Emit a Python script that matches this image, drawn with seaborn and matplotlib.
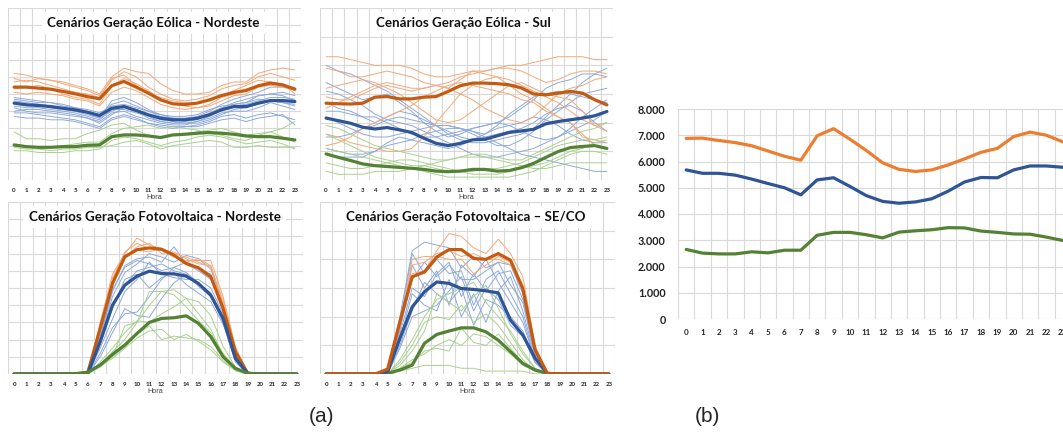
import numpy as np
import pandas as pd
import matplotlib
matplotlib.use("Agg")
import matplotlib.pyplot as plt
from matplotlib.ticker import MultipleLocator, FuncFormatter
import seaborn as sns

hours = list(range(24))
hour_labels = [str(h) for h in hours]

# ---------------- (a) Wind, Nordeste (relative scale 0-10) ----------------
ne_wind_hi = [5.40, 5.40, 5.34, 5.28, 5.15, 5.01, 4.85, 4.72, 5.48, 5.73, 5.40, 5.05,
              4.66, 4.43, 4.39, 4.47, 4.66, 4.91, 5.09, 5.20, 5.48, 5.63, 5.53, 5.28]
ne_wind_mid = [4.47, 4.37, 4.33, 4.27, 4.17, 4.08, 3.94, 3.75, 4.17, 4.27, 4.04, 3.79,
               3.59, 3.50, 3.50, 3.59, 3.79, 4.08, 4.27, 4.27, 4.47, 4.62, 4.62, 4.56]
ne_wind_lo = [2.04, 1.94, 1.90, 1.90, 1.94, 1.94, 2.02, 2.04, 2.52, 2.62, 2.62, 2.56,
              2.47, 2.62, 2.66, 2.72, 2.76, 2.72, 2.66, 2.56, 2.52, 2.52, 2.43, 2.33]
ne_wind_hi_runs = [
    [6.2, 6.1, 5.9, 5.8, 5.7, 5.5, 5.3, 5.0, 6.0, 6.5, 6.3, 6.2, 5.6, 5.2, 5.0, 5.0, 5.1, 5.5, 5.7, 5.7, 6.2, 6.4, 6.5, 6.4],
    [5.9, 5.7, 5.9, 5.8, 5.6, 5.4, 5.2, 4.9, 5.8, 6.3, 6.0, 5.4, 5.0, 4.7, 4.6, 4.7, 4.9, 5.3, 5.5, 5.6, 6.0, 6.2, 6.0, 5.8],
    [5.7, 5.8, 5.7, 5.5, 5.3, 5.1, 5.0, 4.8, 5.9, 6.1, 5.5, 5.0, 4.8, 4.6, 4.5, 4.5, 4.6, 4.9, 5.2, 5.5, 5.8, 5.7, 5.5, 5.3],
    [5.3, 5.4, 5.5, 5.3, 5.0, 4.8, 4.7, 4.4, 5.5, 5.9, 5.6, 5.2, 4.7, 4.4, 4.3, 4.2, 4.4, 4.8, 5.0, 5.3, 5.5, 5.7, 5.6, 5.0],
    [5.1, 5.0, 5.1, 5.0, 4.9, 4.7, 4.6, 4.3, 5.1, 5.4, 5.2, 4.8, 4.4, 4.2, 4.1, 4.2, 4.3, 4.6, 4.9, 5.0, 5.4, 5.5, 5.4, 5.2],
]
ne_wind_mid_runs = [
    [4.8, 4.7, 4.6, 4.5, 4.3, 4.2, 4.0, 3.8, 4.4, 4.6, 4.3, 4.0, 3.7, 3.6, 3.6, 3.7, 4.0, 4.4, 4.7, 4.9, 5.1, 5.4, 5.4, 5.4],
    [4.6, 4.5, 4.4, 4.3, 4.2, 4.0, 3.9, 3.6, 4.0, 4.3, 4.1, 3.8, 3.5, 3.4, 3.3, 3.4, 3.7, 4.1, 4.4, 4.5, 4.9, 5.0, 5.1, 4.9],
    [4.3, 4.2, 4.2, 4.1, 4.0, 3.9, 3.7, 3.5, 4.1, 4.1, 3.9, 3.7, 3.4, 3.3, 3.4, 3.5, 3.8, 4.2, 4.3, 4.4, 4.6, 4.8, 4.8, 4.7],
    [4.2, 4.0, 3.9, 3.9, 3.8, 3.7, 3.6, 3.4, 3.9, 4.0, 3.7, 3.5, 3.3, 3.2, 3.2, 3.4, 3.6, 3.9, 4.0, 4.0, 4.2, 4.5, 4.3, 4.1],
    [3.9, 3.9, 3.8, 3.7, 3.6, 3.5, 3.3, 3.1, 3.6, 3.8, 3.6, 3.3, 3.1, 3.0, 3.1, 3.2, 3.4, 3.7, 3.8, 3.6, 3.8, 3.9, 3.7, 3.5],
    [4.5, 4.4, 4.4, 4.2, 4.1, 4.0, 3.8, 3.6, 4.6, 4.8, 4.5, 4.1, 3.8, 3.6, 3.5, 3.6, 3.9, 4.2, 4.5, 4.7, 4.9, 5.0, 4.9, 4.6],
    [4.0, 4.1, 4.1, 4.0, 3.9, 3.8, 3.6, 3.3, 3.8, 4.2, 4.0, 3.6, 3.4, 3.3, 3.3, 3.3, 3.5, 3.8, 4.1, 4.2, 4.4, 4.6, 4.5, 4.4],
    [4.7, 4.6, 4.5, 4.5, 4.4, 4.2, 4.1, 3.9, 4.3, 4.4, 4.2, 4.0, 3.8, 3.7, 3.7, 3.8, 4.1, 4.3, 4.4, 4.5, 4.7, 4.6, 4.5, 4.3],
    [3.7, 3.6, 3.6, 3.5, 3.5, 3.4, 3.2, 3.0, 3.5, 3.7, 3.5, 3.3, 3.2, 3.1, 3.1, 3.1, 3.3, 3.5, 3.6, 3.4, 3.6, 3.7, 3.8, 3.2],
]
ne_wind_lo_runs = [
    [2.8, 2.4, 2.4, 2.3, 2.4, 2.4, 2.7, 2.9, 3.2, 3.3, 2.9, 2.6, 2.5, 2.6, 2.7, 2.8, 2.9, 3.0, 2.8, 2.6, 2.7, 2.8, 3.0, 3.4],
    [2.0, 1.9, 1.9, 1.9, 2.0, 2.1, 2.2, 2.2, 2.7, 3.0, 3.1, 3.2, 3.0, 3.1, 3.0, 2.9, 2.7, 2.6, 2.4, 2.3, 2.6, 2.8, 2.5, 2.2],
    [1.7, 1.7, 1.6, 1.6, 1.6, 1.7, 1.7, 1.8, 2.3, 2.5, 2.4, 2.2, 2.0, 2.2, 2.3, 2.5, 2.6, 2.5, 2.3, 2.1, 2.2, 2.3, 2.1, 1.8],
    [1.9, 1.8, 1.8, 1.7, 1.8, 1.8, 1.9, 1.9, 2.0, 2.2, 2.3, 2.1, 1.8, 2.0, 2.1, 2.2, 2.3, 2.2, 1.9, 1.9, 2.0, 1.9, 1.9, 1.9],
]

# ---------------- (a) Wind, Sul (relative scale 0-6) ----------------
s_wind_hi = [2.68, 2.66, 2.65, 2.68, 2.89, 2.91, 2.83, 2.83, 2.89, 2.91, 3.09, 3.29,
             3.38, 3.38, 3.36, 3.32, 3.21, 3.00, 2.97, 3.03, 3.09, 3.03, 2.80, 2.62]
s_wind_mid = [2.16, 2.07, 1.98, 1.84, 1.78, 1.83, 1.75, 1.66, 1.46, 1.28, 1.20, 1.28,
              1.40, 1.42, 1.54, 1.66, 1.71, 1.77, 1.96, 2.04, 2.10, 2.16, 2.24, 2.39]
s_wind_lo = [0.91, 0.79, 0.68, 0.56, 0.50, 0.47, 0.44, 0.41, 0.37, 0.31, 0.29, 0.31,
             0.37, 0.37, 0.31, 0.33, 0.43, 0.58, 0.79, 0.99, 1.13, 1.17, 1.20, 1.10]
s_wind_hi_runs = [
    [4.3, 4.3, 4.2, 4.1, 4.0, 4.0, 4.0, 3.9, 3.7, 3.6, 3.6, 3.7, 3.8, 3.8, 3.9, 4.0, 4.0, 4.1, 4.2, 4.3, 4.3, 4.3, 4.2, 4.2],
    [3.9, 3.8, 3.6, 3.6, 3.7, 3.8, 3.7, 3.6, 3.4, 3.3, 3.2, 3.5, 3.8, 3.7, 3.6, 3.3, 3.0, 2.8, 2.5, 2.2, 2.0, 1.5, 1.4, 1.3],
    [2.5, 2.7, 2.9, 3.1, 3.3, 3.4, 3.3, 3.2, 3.2, 3.3, 3.4, 3.6, 3.7, 3.8, 3.9, 3.9, 3.8, 3.6, 3.4, 3.5, 3.7, 3.8, 3.8, 3.7],
    [1.2, 1.3, 1.5, 1.8, 2.0, 2.2, 2.4, 2.6, 2.9, 3.1, 3.3, 3.4, 3.3, 3.2, 3.1, 3.0, 2.8, 2.7, 2.4, 2.2, 2.0, 1.6, 1.2, 1.1],
    [3.2, 3.3, 3.4, 3.5, 3.4, 3.2, 3.0, 2.7, 2.4, 2.1, 2.0, 2.1, 2.4, 2.7, 3.0, 3.3, 3.4, 3.2, 3.0, 2.9, 2.8, 2.4, 1.9, 1.7],
    [2.9, 2.8, 2.8, 3.0, 3.2, 3.3, 3.2, 3.1, 3.2, 3.3, 3.2, 3.0, 2.8, 2.5, 2.3, 2.1, 2.0, 2.2, 2.6, 3.0, 3.2, 3.3, 3.5, 3.6],
    [1.6, 1.5, 1.3, 1.2, 1.1, 1.0, 1.0, 1.1, 1.5, 2.0, 2.5, 3.0, 3.3, 3.5, 3.6, 3.5, 3.3, 3.1, 2.9, 2.7, 2.4, 2.1, 1.9, 2.0],
]
s_wind_mid_runs = [
    [4.0, 3.8, 3.7, 3.5, 3.3, 3.1, 2.8, 2.5, 2.2, 1.9, 1.6, 1.4, 1.3, 1.3, 1.4, 1.5, 1.6, 1.8, 2.2, 2.6, 3.0, 3.4, 3.7, 3.9],
    [3.4, 3.2, 3.0, 2.8, 2.9, 3.0, 2.7, 2.4, 2.0, 1.7, 1.5, 1.6, 1.8, 1.9, 2.0, 2.2, 2.5, 2.8, 3.2, 3.4, 3.5, 3.7, 3.7, 3.6],
    [2.7, 2.5, 2.4, 2.2, 2.0, 2.2, 2.4, 2.3, 2.1, 1.9, 1.9, 1.8, 1.7, 1.6, 1.9, 2.3, 2.6, 2.9, 3.0, 3.1, 3.0, 2.9, 2.8, 2.7],
    [1.1, 1.0, 0.9, 0.9, 1.0, 1.2, 1.3, 1.4, 1.6, 1.7, 1.8, 1.8, 1.7, 1.5, 1.3, 1.1, 0.9, 0.8, 0.7, 0.6, 0.5, 0.4, 0.3, 0.3],
    [2.2, 2.0, 1.8, 1.6, 1.5, 1.5, 1.6, 1.7, 1.8, 1.9, 1.9, 1.8, 1.6, 1.4, 1.2, 1.2, 1.4, 1.7, 2.1, 2.4, 2.7, 3.0, 3.1, 3.2],
    [0.9, 0.8, 0.8, 0.8, 1.0, 1.3, 1.5, 1.4, 1.3, 1.2, 1.1, 1.2, 1.4, 1.6, 1.8, 1.9, 2.0, 2.2, 2.1, 1.9, 1.6, 1.4, 1.3, 1.3],
    [3.1, 3.0, 2.8, 2.6, 2.3, 2.1, 2.0, 1.9, 1.7, 1.5, 1.3, 1.1, 0.9, 0.8, 0.8, 0.9, 1.0, 1.1, 1.3, 1.5, 1.8, 2.2, 2.5, 2.8],
    [2.4, 2.4, 2.3, 2.2, 2.2, 2.0, 1.8, 1.6, 1.5, 1.5, 1.6, 1.7, 1.8, 1.9, 2.0, 1.9, 1.7, 1.5, 1.4, 1.5, 1.7, 1.9, 2.1, 2.4],
    [1.5, 1.5, 1.6, 1.8, 1.9, 2.1, 2.2, 2.1, 2.0, 1.9, 1.7, 1.5, 1.4, 1.5, 1.6, 1.7, 1.8, 2.0, 2.3, 2.5, 2.6, 2.4, 2.0, 1.7],
]
s_wind_lo_runs = [
    [1.9, 1.8, 1.6, 1.4, 1.2, 1.1, 1.0, 0.9, 0.8, 0.7, 0.7, 0.8, 0.9, 0.9, 0.8, 0.7, 0.7, 0.9, 1.1, 1.3, 1.5, 1.7, 1.8, 2.0],
    [1.6, 1.4, 1.2, 1.0, 0.8, 0.7, 0.6, 0.5, 0.5, 0.4, 0.3, 0.3, 0.3, 0.4, 0.4, 0.5, 0.6, 0.8, 1.0, 1.2, 1.3, 1.4, 1.4, 1.5],
    [0.6, 0.5, 0.4, 0.4, 0.5, 0.6, 0.7, 0.7, 0.6, 0.5, 0.4, 0.3, 0.2, 0.2, 0.2, 0.3, 0.4, 0.5, 0.6, 0.8, 1.0, 1.1, 1.3, 1.4],
    [0.3, 0.2, 0.2, 0.2, 0.3, 0.3, 0.3, 0.4, 0.5, 0.6, 0.7, 0.8, 0.8, 0.8, 0.7, 0.6, 0.5, 0.4, 0.4, 0.5, 0.6, 0.6, 0.6, 0.6],
    [1.1, 1.0, 0.9, 0.8, 0.7, 0.6, 0.5, 0.4, 0.3, 0.2, 0.1, 0.1, 0.1, 0.1, 0.1, 0.1, 0.2, 0.3, 0.5, 0.7, 0.9, 1.0, 1.0, 0.9],
]

# ---------------- (a) Solar, Nordeste (relative scale 0-10) ----------------
ne_pv_hi = [0, 0, 0, 0, 0, 0, 0.10, 2.65, 5.26, 6.81, 7.23, 7.33, 7.25, 6.91, 6.42, 6.17, 5.65, 3.81, 1.30, 0.04, 0, 0, 0, 0]
ne_pv_mid = [0, 0, 0, 0, 0, 0, 0.05, 1.88, 4.00, 5.16, 5.69, 5.98, 5.84, 5.82, 5.69, 5.26, 4.58, 3.23, 0.91, 0.04, 0, 0, 0, 0]
ne_pv_lo = [0, 0, 0, 0, 0, 0.02, 0.10, 0.52, 1.14, 1.68, 2.36, 3.00, 3.23, 3.27, 3.38, 2.94, 2.17, 1.00, 0.33, 0.04, 0, 0, 0, 0]
ne_pv_hi_runs = [
    [0, 0, 0, 0, 0, 0, 0, 3.0, 5.8, 7.0, 7.9, 7.5, 7.3, 7.0, 6.8, 6.5, 6.2, 4.3, 1.5, 0, 0, 0, 0, 0],
    [0, 0, 0, 0, 0, 0, 0, 2.8, 5.5, 7.1, 7.6, 7.3, 7.2, 6.8, 6.6, 6.6, 6.6, 4.5, 1.6, 0, 0, 0, 0, 0],
    [0, 0, 0, 0, 0, 0, 0, 2.5, 5.2, 6.8, 7.4, 7.6, 7.0, 7.1, 6.7, 6.4, 6.3, 4.1, 1.3, 0, 0, 0, 0, 0],
    [0, 0, 0, 0, 0, 0, 0, 2.7, 5.6, 6.9, 7.2, 7.1, 7.3, 6.9, 6.5, 6.7, 6.3, 4.0, 1.4, 0, 0, 0, 0, 0],
]
ne_pv_mid_runs = [
    [0, 0, 0, 0, 0, 0, 0, 2.2, 4.8, 6.3, 6.7, 6.8, 6.5, 7.4, 6.4, 6.0, 5.5, 3.8, 1.1, 0, 0, 0, 0, 0],
    [0, 0, 0, 0, 0, 0, 0, 2.0, 4.5, 5.9, 6.4, 7.0, 6.8, 6.5, 6.9, 6.7, 6.1, 4.0, 1.2, 0, 0, 0, 0, 0],
    [0, 0, 0, 0, 0, 0, 0, 1.8, 4.0, 5.2, 6.0, 6.2, 6.4, 6.0, 5.8, 5.2, 4.6, 3.2, 0.9, 0, 0, 0, 0, 0],
    [0, 0, 0, 0, 0, 0, 0, 1.2, 2.7, 3.5, 3.6, 4.5, 5.5, 6.2, 5.9, 5.3, 4.7, 3.3, 0.8, 0, 0, 0, 0, 0],
    [0, 0, 0, 0, 0, 0, 0, 1.5, 3.2, 4.8, 5.5, 6.5, 5.8, 5.6, 5.5, 5.5, 5.0, 3.5, 1.0, 0, 0, 0, 0, 0],
    [0, 0, 0, 0, 0, 0, 0, 1.0, 2.4, 3.8, 3.4, 3.3, 4.4, 5.3, 5.8, 5.1, 4.5, 3.0, 0.7, 0, 0, 0, 0, 0],
    [0, 0, 0, 0, 0, 0, 0, 2.1, 4.9, 6.2, 6.6, 6.4, 6.0, 6.2, 6.5, 6.2, 5.8, 3.6, 1.0, 0, 0, 0, 0, 0],
    [0, 0, 0, 0, 0, 0, 0, 1.7, 3.8, 5.5, 5.8, 5.0, 5.6, 5.9, 5.2, 4.7, 4.2, 2.9, 0.8, 0, 0, 0, 0, 0],
]
ne_pv_lo_runs = [
    [0, 0, 0, 0, 0, 0, 0, 0.6, 1.0, 2.8, 3.0, 4.0, 4.8, 4.6, 3.9, 3.1, 2.4, 1.2, 0.3, 0, 0, 0, 0, 0],
    [0, 0, 0, 0, 0, 0, 0, 0.5, 1.3, 2.0, 3.0, 4.8, 4.8, 4.9, 4.4, 3.5, 2.6, 1.1, 0.2, 0, 0, 0, 0, 0],
    [0, 0, 0, 0, 0, 0, 0, 0.4, 1.0, 1.6, 2.3, 2.8, 2.0, 2.2, 2.1, 2.0, 1.6, 0.8, 0.2, 0, 0, 0, 0, 0],
    [0, 0, 0, 0, 0, 0, 0, 0.5, 0.9, 1.5, 2.1, 2.5, 2.6, 2.0, 2.3, 1.9, 1.4, 0.7, 0.2, 0, 0, 0, 0, 0],
    [0, 0, 0, 0, 0, 0, 0, 0.7, 1.5, 2.4, 3.1, 3.0, 3.5, 3.9, 4.4, 4.2, 3.4, 1.6, 0.4, 0, 0, 0, 0, 0],
]

# ---------------- (a) Solar, SE/CO (relative scale 0-6) ----------------
se_pv_hi = [0, 0, 0, 0, 0, 0.17, 1.82, 3.39, 3.56, 4.08, 4.34, 4.34, 4.03, 4.00, 4.20, 3.97, 2.98, 0.84, 0.02, 0, 0, 0, 0, 0]
se_pv_mid = [0, 0, 0, 0, 0, 0.08, 1.24, 2.34, 2.87, 3.21, 3.16, 2.98, 2.95, 2.90, 2.83, 1.88, 1.36, 0.55, 0.02, 0, 0, 0, 0, 0]
se_pv_lo = [0, 0, 0, 0, 0, 0.02, 0.14, 0.31, 1.07, 1.38, 1.50, 1.61, 1.61, 1.47, 1.18, 0.78, 0.37, 0.14, 0.02, 0, 0, 0, 0, 0]
se_pv_hi_runs = [
    [0, 0, 0, 0, 0, 0.1, 1.8, 3.5, 3.6, 4.3, 4.9, 4.8, 4.4, 4.2, 4.7, 4.2, 3.4, 1.0, 0, 0, 0, 0, 0, 0],
    [0, 0, 0, 0, 0, 0.1, 1.7, 4.0, 4.1, 4.1, 4.0, 4.0, 3.5, 3.8, 4.1, 3.9, 3.1, 0.9, 0, 0, 0, 0, 0, 0],
    [0, 0, 0, 0, 0, 0.1, 1.6, 3.8, 3.9, 4.2, 4.3, 4.1, 4.2, 4.0, 4.0, 3.8, 3.0, 0.8, 0, 0, 0, 0, 0, 0],
]
se_pv_mid_runs = [
    [0, 0, 0, 0, 0, 0.1, 2.0, 4.3, 4.6, 4.5, 4.4, 3.7, 4.1, 3.7, 3.9, 3.8, 2.8, 0.7, 0, 0, 0, 0, 0, 0],
    [0, 0, 0, 0, 0, 0.1, 1.8, 4.2, 3.5, 4.0, 3.5, 3.6, 2.4, 3.3, 3.6, 2.8, 2.0, 0.5, 0, 0, 0, 0, 0, 0],
    [0, 0, 0, 0, 0, 0.1, 1.5, 3.8, 3.0, 3.6, 2.4, 3.8, 3.4, 4.0, 3.2, 2.5, 1.8, 0.5, 0, 0, 0, 0, 0, 0],
    [0, 0, 0, 0, 0, 0.0, 1.2, 2.8, 2.4, 2.2, 3.3, 2.0, 2.8, 1.8, 2.9, 3.4, 2.2, 0.6, 0, 0, 0, 0, 0, 0],
    [0, 0, 0, 0, 0, 0.1, 1.6, 3.3, 3.9, 3.4, 3.8, 3.3, 3.3, 3.6, 3.9, 3.1, 2.5, 0.7, 0, 0, 0, 0, 0, 0],
    [0, 0, 0, 0, 0, 0.0, 1.0, 2.2, 3.2, 2.8, 2.5, 3.0, 1.7, 2.6, 2.4, 2.0, 1.5, 0.4, 0, 0, 0, 0, 0, 0],
    [0, 0, 0, 0, 0, 0.1, 1.4, 3.0, 2.7, 3.5, 3.9, 2.7, 3.5, 2.9, 3.5, 3.6, 2.6, 0.6, 0, 0, 0, 0, 0, 0],
    [0, 0, 0, 0, 0, 0.0, 0.9, 2.0, 2.2, 2.4, 2.9, 3.4, 2.2, 3.0, 2.6, 1.7, 1.3, 0.4, 0, 0, 0, 0, 0, 0],
]
se_pv_lo_runs = [
    [0, 0, 0, 0, 0, 0.0, 0.5, 1.2, 2.0, 2.6, 2.8, 3.0, 3.2, 2.5, 2.0, 1.5, 0.8, 0.2, 0, 0, 0, 0, 0, 0],
    [0, 0, 0, 0, 0, 0.0, 0.3, 0.8, 1.5, 2.8, 2.5, 2.2, 2.7, 3.1, 2.3, 1.4, 0.7, 0.2, 0, 0, 0, 0, 0, 0],
    [0, 0, 0, 0, 0, 0.0, 0.2, 0.5, 0.7, 1.0, 1.2, 1.0, 1.4, 1.3, 1.0, 0.7, 0.3, 0.1, 0, 0, 0, 0, 0, 0],
    [0, 0, 0, 0, 0, 0.0, 0.2, 0.4, 0.8, 0.9, 0.8, 1.6, 1.1, 1.0, 1.4, 0.9, 0.4, 0.1, 0, 0, 0, 0, 0, 0],
    [0, 0, 0, 0, 0, 0.0, 0.4, 1.0, 1.8, 2.0, 1.9, 2.4, 1.8, 2.1, 1.7, 1.1, 0.5, 0.1, 0, 0, 0, 0, 0, 0],
    [0, 0, 0, 0, 0, 0.0, 0.1, 0.2, 0.3, 0.3, 0.3, 0.2, 0.2, 0.1, 0.1, 0.1, 0.1, 0.0, 0, 0, 0, 0, 0, 0],
]

# ---------------- (b) Aggregate profiles (MW) ----------------
agg_hi = [6880, 6890, 6800, 6720, 6600, 6400, 6200, 6050, 6980, 7250, 6850, 6420,
          5950, 5700, 5620, 5680, 5870, 6100, 6350, 6500, 6950, 7120, 7000, 6750]
agg_mid = [5680, 5550, 5550, 5480, 5330, 5160, 5000, 4730, 5300, 5380, 5050, 4700,
           4480, 4410, 4460, 4580, 4870, 5220, 5390, 5380, 5680, 5830, 5830, 5780]
agg_lo = [2650, 2510, 2480, 2480, 2560, 2520, 2620, 2620, 3190, 3300, 3300, 3210,
          3090, 3310, 3360, 3400, 3480, 3470, 3350, 3300, 3240, 3230, 3120, 2990]

panel_titles = ["Cenários Geração Eólica - Nordeste",
                "Cenários Geração Eólica - Sul",
                "Cenários Geração Fotovoltaica - Nordeste",
                "Cenários Geração Fotovoltaica – SE/CO"]

# colours
C_HI, C_MID, C_LO = "#C55A11", "#2F5597", "#548235"
C_HI_THIN, C_MID_THIN, C_LO_THIN = "#F4A778", "#8EA9DB", "#A9D18E"
C_B_HI, C_B_MID, C_B_LO = "#ED7D31", "#2F5597", "#548235"
GRID = "#D9D9D9"

sns.set_theme(style="white")
plt.rcParams["font.family"] = ["Lato", "DejaVu Sans"]

fig = plt.figure(figsize=(10.63, 4.32), dpi=100)
W, H = 1063.0, 432.0


def add_axes_px(x0, y0, x1, y1):
    return fig.add_axes([x0 / W, 1 - y1 / H, (x1 - x0) / W, (y1 - y0) / H])


def style_small(ax, ymax, ystep, title, title_x):
    ax.set_xlim(-0.5, 23.5)
    ax.set_ylim(0, ymax)
    ax.set_xticks(hours)
    ax.set_xticklabels(hour_labels, fontsize=4.4, fontweight="bold", color="#222222")
    ax.set_xticks(np.arange(-0.5, 24.0, 1.0), minor=True)
    ax.yaxis.set_major_locator(MultipleLocator(ystep))
    ax.set_yticklabels([])
    ax.tick_params(axis="both", which="both", length=0, pad=6)
    ax.grid(which="minor", axis="x", color=GRID, lw=0.8)
    ax.grid(which="major", axis="y", color=GRID, lw=0.8)
    ax.grid(which="major", axis="x", visible=False)
    for s in ax.spines.values():
        s.set_visible(False)
    ax.set_xlabel("Hora", fontsize=5.2, color="#444444", labelpad=0.5,
                  family=["Liberation Sans", "DejaVu Sans"])
    ax.set_ylabel("")
    ax.text(title_x, 0.912, title, transform=ax.transAxes, ha="center", va="center",
            fontsize=9.6, fontweight="bold", color="#111111",
            bbox=dict(boxstyle="square,pad=0.4", fc="white", ec="none"), zorder=10)


def draw_panel(ax, runs_mid, runs_hi, runs_lo, hi, mid, lo, thick_order):
    for run in runs_mid:
        sns.lineplot(x=hours, y=run, ax=ax, color=C_MID_THIN, lw=0.7, legend=False)
    for run in runs_hi:
        sns.lineplot(x=hours, y=run, ax=ax, color=C_HI_THIN, lw=0.7, legend=False)
    for run in runs_lo:
        sns.lineplot(x=hours, y=run, ax=ax, color=C_LO_THIN, lw=0.7, legend=False)
    thick = {"hi": (hi, C_HI), "mid": (mid, C_MID), "lo": (lo, C_LO)}
    for key in thick_order:
        vals, col = thick[key]
        sns.lineplot(x=hours, y=vals, ax=ax, color=col, lw=2.3, legend=False,
                     solid_joinstyle="round", solid_capstyle="round")


ax1 = add_axes_px(8, 8, 301, 180)
draw_panel(ax1, ne_wind_mid_runs, ne_wind_hi_runs, ne_wind_lo_runs,
           ne_wind_hi, ne_wind_mid, ne_wind_lo, ["hi", "mid", "lo"])
style_small(ax1, 10, 1, panel_titles[0], 0.497)

ax2 = add_axes_px(320, 8, 613, 180)
draw_panel(ax2, s_wind_mid_runs, s_wind_hi_runs, s_wind_lo_runs,
           s_wind_hi, s_wind_mid, s_wind_lo, ["hi", "mid", "lo"])
style_small(ax2, 6, 1, panel_titles[1], 0.488)

ax3 = add_axes_px(8, 202, 303, 374)
draw_panel(ax3, ne_pv_mid_runs, ne_pv_hi_runs, ne_pv_lo_runs,
           ne_pv_hi, ne_pv_mid, ne_pv_lo, ["hi", "mid", "lo"])
style_small(ax3, 10, 1, panel_titles[2], 0.497)

ax4 = add_axes_px(320, 202, 615, 374)
draw_panel(ax4, se_pv_mid_runs, se_pv_hi_runs, se_pv_lo_runs,
           se_pv_hi, se_pv_mid, se_pv_lo, ["lo", "mid", "hi"])
style_small(ax4, 6, 1, panel_titles[3], 0.495)

# ---------------- (b) ----------------
axb = add_axes_px(678, 109, 1071, 319)
df_b = pd.DataFrame({"Hora": hours * 3,
                     "MW": agg_hi + agg_mid + agg_lo,
                     "serie": ["hi"] * 24 + ["mid"] * 24 + ["lo"] * 24})
sns.lineplot(data=df_b, x="Hora", y="MW", hue="serie",
             palette={"hi": C_B_HI, "mid": C_B_MID, "lo": C_B_LO},
             lw=2.3, legend=False, ax=axb)
axb.set_xlim(-0.5, 23.5)
axb.set_ylim(0, 8000)
axb.set_xticks(hours)
axb.set_xticklabels(hour_labels, fontsize=5.8, fontweight="bold", color="#222222")
axb.set_xticks(np.arange(-0.5, 24.0, 1.0), minor=True)
axb.yaxis.set_major_locator(MultipleLocator(1000))
axb.yaxis.set_major_formatter(FuncFormatter(lambda v, p: f"{int(v):,}".replace(",", ".")))
axb.tick_params(axis="y", labelsize=7.8, length=0, pad=9)
for lab in axb.get_yticklabels():
    lab.set_fontweight("bold")
    lab.set_color("#222222")
axb.tick_params(axis="x", which="both", length=0, pad=7)
axb.grid(which="minor", axis="x", color=GRID, lw=0.8)
axb.grid(which="major", axis="y", color=GRID, lw=0.8)
axb.grid(which="major", axis="x", visible=False)
for s in axb.spines.values():
    s.set_visible(False)
axb.set_xlabel("")
axb.set_ylabel("")

fig.text(322 / W, 1 - 417 / H, "(a)", ha="center", va="center", fontsize=15,
         family=["Liberation Sans", "DejaVu Sans"])
fig.text(707 / W, 1 - 417 / H, "(b)", ha="center", va="center", fontsize=15,
         family=["Liberation Sans", "DejaVu Sans"])

fig.savefig("out.png", dpi=100, facecolor="white")
